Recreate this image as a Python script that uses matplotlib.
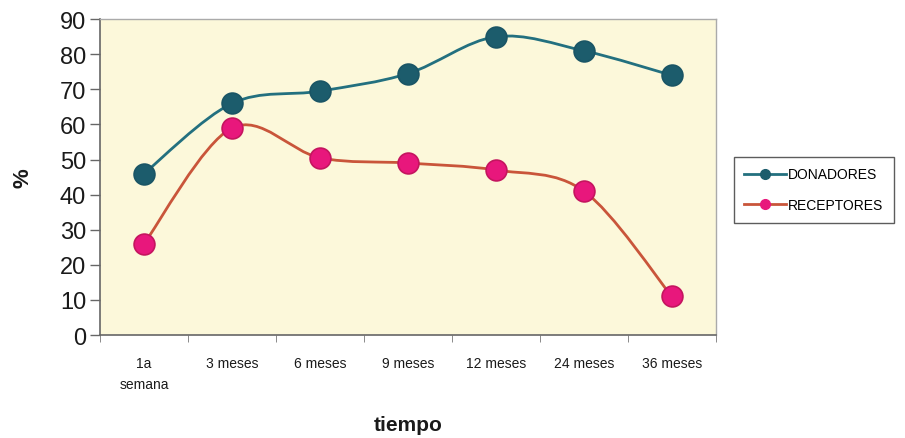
import matplotlib.pyplot as plt
import numpy as np
from matplotlib.path import Path
from matplotlib.patches import PathPatch
from matplotlib.lines import Line2D

plt.rcParams['font.family'] = ['Liberation Sans', 'DejaVu Sans']

categorias = ["1a\nsemana", "3 meses", "6 meses", "9 meses", "12 meses", "24 meses", "36 meses"]
donadores = [46, 66, 69.5, 74.5, 85, 81, 74]
receptores = [26, 59, 50.5, 49, 47, 41, 11]


def curva_suave(ax, x, y, color):
    # spline tipo Catmull-Rom como las lineas suavizadas de Excel
    x = np.asarray(x, float)
    y = np.asarray(y, float)
    pts = np.column_stack([x, y])
    verts = [pts[0]]
    codes = [Path.MOVETO]
    n = len(pts)
    for i in range(n - 1):
        p0 = pts[max(i - 1, 0)]
        p1 = pts[i]
        p2 = pts[i + 1]
        p3 = pts[min(i + 2, n - 1)]
        c1 = p1 + (p2 - p0) / 6.0
        c2 = p2 - (p3 - p1) / 6.0
        verts += [c1, c2, p2]
        codes += [Path.CURVE4] * 3
    ax.add_patch(PathPatch(Path(verts, codes), facecolor='none', edgecolor=color, lw=2.0, zorder=2))


fig = plt.figure(figsize=(9.05, 4.39), dpi=100)
ax = fig.add_axes([0.1105, 0.2346, 0.6805, 0.7194])
ax.set_facecolor('#fcf8da')

x = np.arange(len(categorias))
col_don_linea = '#23707f'
col_don_punto = '#1c5c6c'
col_rec_linea = '#c9553a'
col_rec_punto = '#e8177c'

curva_suave(ax, x, donadores, col_don_linea)
curva_suave(ax, x, receptores, col_rec_linea)
ax.plot(x, donadores, 'o', ms=15, color=col_don_punto, mec='#1a5565', mew=1.2, zorder=3)
ax.plot(x, receptores, 'o', ms=15, color=col_rec_punto, mec='#c4155f', mew=1.2, zorder=3)

ax.set_xlim(-0.5, len(categorias) - 0.5)
ax.set_ylim(0, 90)
ax.set_yticks(np.arange(0, 91, 10))
ax.tick_params(axis='y', labelsize=17, length=7, width=1, color='#666666', pad=3, labelcolor='#1a1a1a')

ax.set_xticks(x)
ax.set_xticklabels(categorias, fontsize=10, color='#1a1a1a', linespacing=1.65)
ax.set_xticks(np.arange(-0.5, len(categorias), 1), minor=True)
ax.tick_params(axis='x', which='major', length=0, pad=15)
ax.tick_params(axis='x', which='minor', length=5, color='#777777')

for lado in ['left', 'bottom']:
    ax.spines[lado].set_color('#666666')
    ax.spines[lado].set_linewidth(1.2)
for lado in ['top', 'right']:
    ax.spines[lado].set_color('#aaaaaa')
    ax.spines[lado].set_linewidth(1.0)

fig.text(0.451, 0.030, 'tiempo', fontsize=15, fontweight='bold', ha='center', va='center', color='#1a1a1a')
fig.text(0.025, 0.595, '%', fontsize=16, fontweight='bold', ha='center', va='center', rotation=90, color='#1a1a1a')

manijas = [
    Line2D([0], [0], color=col_don_linea, lw=2, marker='o', ms=7, mfc=col_don_punto, mec=col_don_punto),
    Line2D([0], [0], color=col_rec_linea, lw=2, marker='o', ms=7, mfc=col_rec_punto, mec=col_rec_punto),
]
leg = fig.legend(manijas, ['DONADORES', 'RECEPTORES'], loc='upper left',
                 bbox_to_anchor=(0.811, 0.640), fontsize=10, frameon=True, fancybox=False,
                 handlelength=3.0, handletextpad=0.15, borderpad=0.75, labelspacing=1.2,
                 borderaxespad=0)
leg.get_frame().set_edgecolor('#333333')
leg.get_frame().set_linewidth(1.0)

fig.savefig('out.png', dpi=100, facecolor='white')
